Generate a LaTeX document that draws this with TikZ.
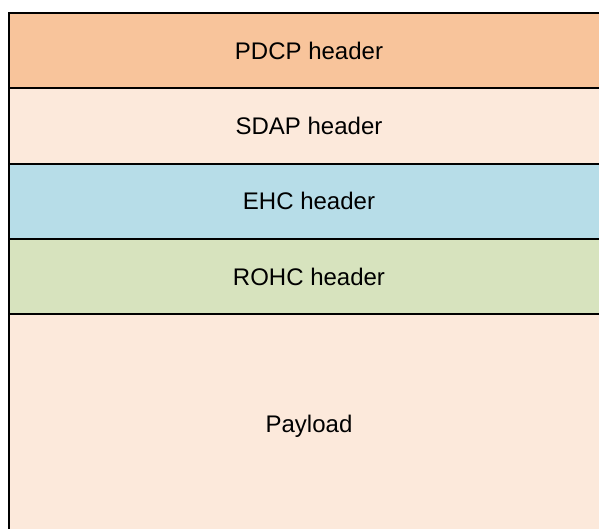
\documentclass[tikz,border=0pt]{standalone}
\usepackage{fontspec}
\setmainfont{Liberation Sans}
\definecolor{pdcp}{HTML}{F8C49B}
\definecolor{sdap}{HTML}{FCE9DB}
\definecolor{ehc}{HTML}{B7DDE8}
\definecolor{rohc}{HTML}{D7E3BE}
\definecolor{pay}{HTML}{FCE9DB}
\tikzset{
  layer/.style={draw=black, line width=2pt, minimum width=600pt, anchor=north west, inner sep=0pt,
    font=\fontsize{24}{28}\selectfont, text=black},
}
\begin{document}
\begin{tikzpicture}[x=1pt,y=-1pt]
\useasboundingbox (0,0) rectangle (599,529);
\clip (0,0) rectangle (599,529);
\fill[white] (0,0) rectangle (599,529);
\node[layer, fill=pay, minimum height=225pt] (payload) at (8,313.2) {Payload};
\node[layer, fill=rohc, minimum height=75.3pt] (rohc) at (8,237.9) {ROHC header};
\node[layer, fill=ehc, minimum height=75.3pt] (ehc) at (8,162.6) {EHC header};
\node[layer, fill=sdap, minimum height=75.3pt] (sdap) at (8,87.3) {SDAP header};
\node[layer, fill=pdcp, minimum height=75.3pt] (pdcp) at (8,12) {PDCP header};
\end{tikzpicture}
\end{document}
